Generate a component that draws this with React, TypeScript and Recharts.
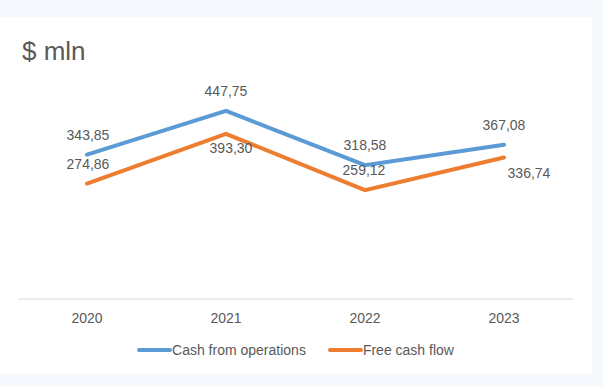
import { LineChart, Line, XAxis, YAxis, Legend } from 'recharts';

const YEARS = ['2020', '2021', '2022', '2023'];
const CASH_FROM_OPS = [343.85, 447.75, 318.58, 367.08];
const FREE_CASH_FLOW = [274.86, 393.3, 259.12, 336.74];

const BLUE = '#5b9bd5';
const ORANGE = '#ed7d31';
const TEXT = '#595959';
const FONT = '"Liberation Sans", Arial, sans-serif';

// label placement relative to each point (dx, dy of text centre)
const BLUE_LABEL_OFFSETS = [[1, -20], [0, -20], [0, -20], [0, -20]];
const ORANGE_LABEL_OFFSETS = [[1, -20], [5, 14], [-1, -20], [25, 15]];

const data = YEARS.map((year, i) => ({
    year,
    ops: CASH_FROM_OPS[i],
    fcf: FREE_CASH_FLOW[i],
}));

const fmt = (v: number) => v.toFixed(2).replace('.', ',');

function makeLabel(offsets: number[][]) {
    return (props: any) => {
        const { x, y, value, index } = props;
        const [dx, dy] = offsets[index] ?? [0, -20];
        return (
            <text
                x={x + dx}
                y={y + dy}
                textAnchor="middle"
                dominantBaseline="central"
                fill={TEXT}
                fontSize={14}
                fontFamily={FONT}
            >
                {fmt(value)}
            </text>
        );
    };
}

function LegendContent() {
    const items = [
        { name: 'Cash from operations', color: BLUE },
        { name: 'Free cash flow', color: ORANGE },
    ];
    return (
        <div style={{ display: 'flex', justifyContent: 'center', gap: 22, marginTop: 3, fontFamily: FONT, fontSize: 14, color: TEXT }}>
            {items.map((it) => (
                <div key={it.name} style={{ display: 'flex', alignItems: 'center' }}>
                    <span style={{ display: 'inline-block', width: 35, height: 4, borderRadius: 2, background: it.color }} />
                    <span>{it.name}</span>
                </div>
            ))}
        </div>
    );
}

export default function App() {
    return (
        <div style={{ position: 'absolute', left: 0, top: 0, width: 603, height: 386, background: '#f5f8fc' }}>
            <div style={{ position: 'absolute', left: 0, top: 17, width: 592, height: 357, background: '#fff' }}>
                <div
                    style={{
                        position: 'absolute',
                        left: 22,
                        top: 21,
                        fontFamily: FONT,
                        fontSize: 26,
                        lineHeight: '26px',
                        color: TEXT,
                        zIndex: 1,
                    }}
                >
                    $ mln
                </div>
                <LineChart width={592} height={357} data={data} margin={{ top: 72, right: 19, left: 18, bottom: 0 }}>
                    <XAxis
                        dataKey="year"
                        padding={{ left: 69, right: 69 }}
                        axisLine={{ stroke: '#d9d9d9', strokeWidth: 1 }}
                        tickLine={false}
                        tickMargin={8}
                        height={40}
                        tick={{ fill: TEXT, fontSize: 14, fontFamily: FONT }}
                    />
                    <YAxis hide domain={[0, 500]} />
                    <Legend verticalAlign="bottom" content={<LegendContent />} wrapperStyle={{ height: 35 }} />
                    <Line
                        type="linear"
                        dataKey="ops"
                        name="Cash from operations"
                        stroke={BLUE}
                        strokeWidth={4}
                        strokeLinecap="round"
                        dot={false}
                        isAnimationActive={false}
                        label={makeLabel(BLUE_LABEL_OFFSETS)}
                    />
                    <Line
                        type="linear"
                        dataKey="fcf"
                        name="Free cash flow"
                        stroke={ORANGE}
                        strokeWidth={4}
                        strokeLinecap="round"
                        dot={false}
                        isAnimationActive={false}
                        label={makeLabel(ORANGE_LABEL_OFFSETS)}
                    />
                </LineChart>
            </div>
        </div>
    );
}
